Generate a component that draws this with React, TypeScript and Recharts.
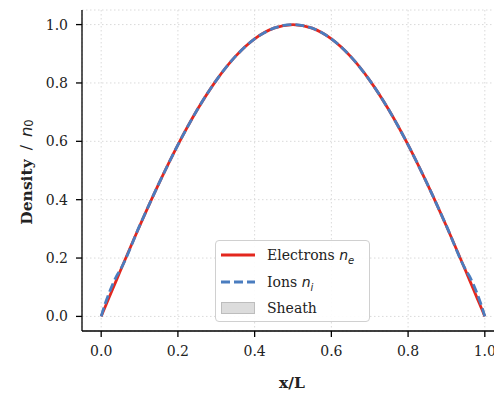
import { LineChart, Line, XAxis, YAxis, CartesianGrid } from 'recharts'

// positions x/L
const xs = [
  0, 0.01, 0.02, 0.03, 0.04, 0.05, 0.1, 0.15, 0.2, 0.25, 0.3, 0.35, 0.4, 0.45, 0.5,
  0.55, 0.6, 0.65, 0.7, 0.75, 0.8, 0.85, 0.9, 0.95, 0.96, 0.97, 0.98, 0.99, 1,
]
const electrons = [
  0, 0.0314, 0.0628, 0.0941, 0.1253, 0.1564, 0.309, 0.454, 0.5878, 0.7071, 0.809, 0.891, 0.9511, 0.9877, 1,
  0.9877, 0.9511, 0.891, 0.809, 0.7071, 0.5878, 0.454, 0.309, 0.1564, 0.1253, 0.0941, 0.0628, 0.0314, 0,
]
const ions = [
  0, 0.042, 0.078, 0.11, 0.138, 0.16, 0.31, 0.454, 0.5878, 0.7071, 0.809, 0.891, 0.9511, 0.9877, 1,
  0.9877, 0.9511, 0.891, 0.809, 0.7071, 0.5878, 0.454, 0.31, 0.16, 0.138, 0.11, 0.078, 0.042, 0,
]
const xTicks = [0, 0.2, 0.4, 0.6, 0.8, 1]
const yTicks = [0, 0.2, 0.4, 0.6, 0.8, 1]

const RED = '#e3271e'
const BLUE = '#4a7dbf'
const SERIF = 'DejaVu Serif'

const data = xs.map((x, i) => ({ x, ne: electrons[i], ni: ions[i] }))

const tickStyle = { fontSize: 14, fill: '#222', fontFamily: SERIF }

// legend drawn as a plain box on top of the plot
function LegendBox() {
  const row = { display: 'flex', alignItems: 'center', height: 26.5 }
  const txt = { marginLeft: 12, fontFamily: SERIF, fontSize: 14, color: '#222', lineHeight: '16px' }
  const math = { fontFamily: 'DejaVu Sans', fontStyle: 'italic' as const }
  return (
    <div
      style={{
        position: 'absolute',
        left: 215,
        top: 240,
        width: 155,
        height: 82,
        boxSizing: 'border-box',
        border: '1px solid #d0d0d0',
        borderRadius: 4,
        background: 'rgba(255,255,255,0.9)',
        padding: '1px 0 0 5px',
      }}
    >
      <div style={row}>
        <svg width={34} height={6}>
          <line x1={0} y1={3} x2={34} y2={3} stroke={RED} strokeWidth={2.8} />
        </svg>
        <span style={txt}>
          Electrons <span style={math}>n</span>
          <sub style={{ ...math, fontSize: 10, lineHeight: 0 }}>e</sub>
        </span>
      </div>
      <div style={row}>
        <svg width={34} height={6}>
          <line x1={0} y1={3} x2={34} y2={3} stroke={BLUE} strokeWidth={2.8} strokeDasharray="9 4" />
        </svg>
        <span style={txt}>
          Ions <span style={math}>n</span>
          <sub style={{ ...math, fontSize: 10, lineHeight: 0 }}>i</sub>
        </span>
      </div>
      <div style={row}>
        <svg width={34} height={12}>
          <rect x={0.5} y={0.5} width={33} height={11} fill="#dcdcdc" stroke="#bdbdbd" />
        </svg>
        <span style={txt}>Sheath</span>
      </div>
    </div>
  )
}

export default function App() {
  return (
    <div
      style={{
        position: 'absolute',
        left: 0,
        top: 0,
        width: 494,
        height: 395,
        overflow: 'hidden',
        background: '#fff',
      }}
    >
      <LineChart width={520} height={395} data={data} margin={{ top: 10, right: 16, left: 0, bottom: 0 }}>
        <CartesianGrid stroke="#dadada" strokeDasharray="1.5 2.5" />
        <XAxis
          dataKey="x"
          type="number"
          domain={[-0.05, 1.05]}
          ticks={xTicks}
          tickFormatter={(v: number) => v.toFixed(1)}
          height={64}
          tickSize={6}
          tickMargin={9}
          tick={tickStyle}
          axisLine={{ stroke: '#000', strokeWidth: 1.3 }}
          tickLine={{ stroke: '#000', strokeWidth: 1.3 }}
          label={{
            content: () => (
              <text x={292} y={388} textAnchor="middle" fontFamily={SERIF} fontWeight="bold" fontSize={15.5} fill="#222">
                x/L
              </text>
            ),
          }}
        />
        <YAxis
          type="number"
          domain={[-0.05, 1.05]}
          ticks={yTicks}
          tickFormatter={(v: number) => v.toFixed(1)}
          width={82}
          tickSize={6}
          tickMargin={8}
          tick={tickStyle}
          axisLine={{ stroke: '#000', strokeWidth: 1.3 }}
          tickLine={{ stroke: '#000', strokeWidth: 1.3 }}
          label={{
            content: () => (
              <text
                x={26}
                y={172}
                transform="rotate(-90 26 172)"
                textAnchor="middle"
                dominantBaseline="central"
                fontSize={15.5}
                fill="#222"
              >
                <tspan fontFamily={SERIF} fontWeight="bold">Density</tspan>
                <tspan fontFamily={SERIF} dx={9}>/</tspan>
                <tspan fontFamily="DejaVu Sans" fontStyle="italic" fontSize={16.5} dx={8}>n</tspan>
                <tspan fontFamily="DejaVu Sans" fontSize={11.5} dy={3}>0</tspan>
              </text>
            ),
          }}
        />
        <Line
          type="monotone"
          dataKey="ne"
          stroke={RED}
          strokeWidth={2.8}
          dot={false}
          isAnimationActive={false}
        />
        <Line
          type="monotone"
          dataKey="ni"
          stroke={BLUE}
          strokeWidth={2.8}
          strokeDasharray="9 4"
          dot={false}
          isAnimationActive={false}
        />
      </LineChart>
      <LegendBox />
    </div>
  )
}
